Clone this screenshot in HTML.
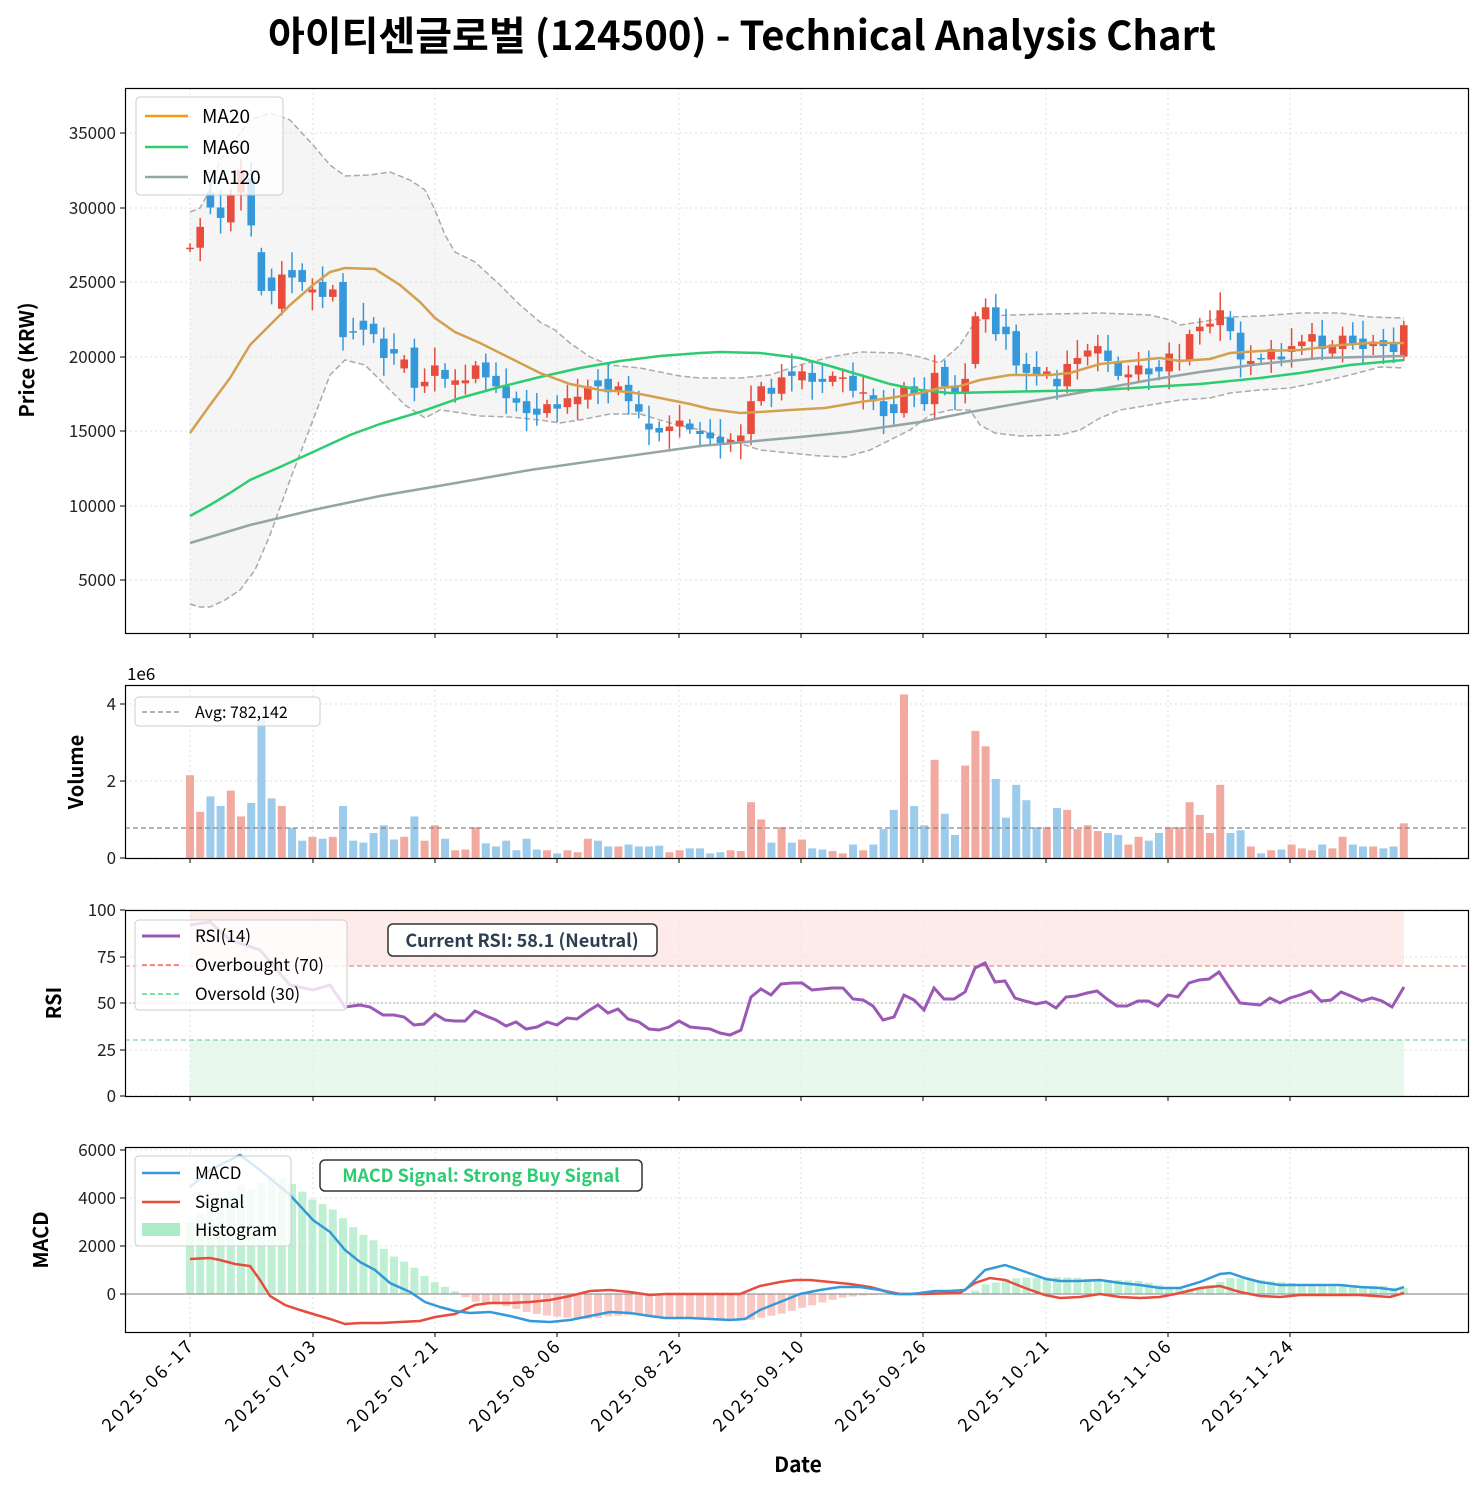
<!DOCTYPE html>
<html><head><meta charset="utf-8"><style>
body{margin:0;background:#fff;}
svg{display:block;font-family:"Noto Sans CJK KR","Liberation Sans",sans-serif;}
</style></head><body>
<svg id="s" width="1483" height="1491" xmlns="http://www.w3.org/2000/svg"></svg>
<script>
const S=document.getElementById('s');let h='';
const X=i=>190+10.2*i;
const py=p=>580-(p-5000)*0.0149;
const oc=[[27300,27300],[27300,28700],[31000,30000],[30000,29300],[29000,30800],[31000,32500],[32000,28800],[27000,24400],[25300,24400],[23200,25500],[25800,25300],[25800,25000],[24300,24500],[25000,24000],[24000,24500],[25000,21300],[21700,21600],[22400,21800],[22200,21500],[21200,19900],
[20500,20200],[19200,19800],[20600,17900],[18000,18300],[18700,19400],[19100,18500],[18100,18400],[18200,18400],[18500,19400],[19600,18600],
[18700,18000],[18000,17200],[17200,16900],[17000,16200],[16500,16100],[16200,16800],[16800,16500],[16600,17200],[16800,17300],[17100,18000],
[18400,18000],[18500,17600],[17700,18000],[18100,17000],[16800,16300],[15500,15100],[15200,14900],[15000,15300],[15300,15700],[15500,15100],
[15000,14800],[14900,14500],[14600,14200],[14200,14400],[14300,14700],[14800,17000],[17000,18000],[17900,17500],[17500,18600],[19000,18700],
[18400,19000],[18900,18300],[18500,18300],[18300,18700],[18500,18600],[18700,17700],[17500,17600],[17400,17000],[17000,16000],[16800,16200],
[16200,18000],[18000,17500],[17700,16800],[16800,18900],[19300,18000],[18000,17600],[17600,18500],[19500,22700],[22500,23300],[23300,21500],
[22000,21500],[21700,19400],[19500,18900],[19300,18800],[18800,19000],[18500,18000],[18000,19500],[19500,19900],[20000,20400],[20200,20700],
[20400,19700],[19700,18700],[18600,18800],[18800,19400],[19200,18800],[19300,19000],[19000,20200],[19800,19800],[19700,21500],[21700,22000],
[22000,22200],[22100,23100],[22600,21700],[21600,19800],[19500,19700],[19900,19800],[19800,20500],[20000,19800],[20300,20700],[20700,21000],
[21000,21500],[21400,20500],[20200,20800],[20500,21400],[21400,20900],[21200,20500],[20700,21000],[21100,20700],[20900,20300],[20000,22100]];
const vol=[2.15,1.2,1.6,1.35,1.75,1.08,1.43,3.6,1.55,1.35,.78,.45,.55,.5,.55,1.35,.45,.4,.65,.85,.48,.55,1.08,.45,.85,.5,.2,.22,.8,.38,.3,.45,.2,.5,.22,.2,.12,.2,.15,.5,.45,.3,.3,.35,.3,.3,.32,.15,.2,.25,.25,.12,.15,.2,.18,1.45,1.0,.4,.8,.4,.48,.25,.22,.18,.12,.35,.2,.35,.75,1.25,4.25,1.35,.85,2.55,1.15,.6,2.4,3.3,2.9,2.05,1.05,1.9,1.5,.8,.8,1.3,1.25,.75,.85,.7,.65,.6,.35,.55,.45,.65,.8,.8,1.45,1.12,.65,1.9,.65,.72,.3,.12,.2,.22,.35,.25,.2,.35,.25,.55,.35,.3,.3,.25,.3,.9];
const P=a=>a.map(p=>p.join(',')).join(' ');
function interp(pts,x){for(let k=0;k<pts.length-1;k++){if(x>=pts[k][0]&&x<=pts[k+1][0]){const t=(x-pts[k][0])/(pts[k+1][0]-pts[k][0]);return pts[k][1]+t*(pts[k+1][1]-pts[k][1]);}}return pts[pts.length-1][1];}
function frame(y0,y1){return `<rect x="125.5" y="${y0}.5" width="1343" height="${y1-y0}" fill="none" stroke="#000" stroke-width="1.2"/>`;}
const xt=[[190,'2025-06-17'],[313,'2025-07-03'],[435,'2025-07-21'],[557,'2025-08-06'],[679,'2025-08-25'],[801,'2025-09-10'],[923,'2025-09-26'],[1046,'2025-10-21'],[1168,'2025-11-06'],[1290,'2025-11-24']];
function grid(y0,y1,ys){let g='';xt.forEach(t=>{g+=`<line x1="${t[0]}" x2="${t[0]}" y1="${y0}" y2="${y1}" stroke="#ddd" stroke-dasharray="2,3"/><line x1="${t[0]}" x2="${t[0]}" y1="${y1}" y2="${y1+5}" stroke="#000"/>`;});
ys.forEach(v=>{g+=`<line x1="125" x2="1469" y1="${v[0]}" y2="${v[0]}" stroke="#ddd" stroke-dasharray="2,3"/><line x1="120" x2="125" y1="${v[0]}" y2="${v[0]}" stroke="#000"/><text x="116" y="${v[0]+6}" font-size="17" text-anchor="end" fill="#222">${v[1]}</text>`;});return g;}
h+=`<text x="742" y="50" font-size="40" font-weight="bold" text-anchor="middle">아이티센글로벌 (124500) - Technical Analysis Chart</text>`;
const BU=[[190,212],[200,208],[210,190],[220,160],[235,140],[250,120],[270,113],[290,120],[313,145],[330,165],[345,176],[370,175],[390,172],[410,180],[425,190],[435,210],[445,235],[455,252],[475,262],[500,285],[520,305],[540,322],[555,330],[570,343],[590,357],[610,365],[640,368],[660,372],[680,376],[700,378],[740,378],[770,375],[800,365],[830,357],[860,352],[900,353],[920,357],[940,363],[960,345],[975,322],[990,316],[1010,315],[1050,314],[1100,313],[1150,315],[1170,320],[1180,325],[1200,322],[1230,317],[1260,316],[1300,313],[1340,313],[1370,317],[1404,318]];
const BL=[[190,604],[200,607],[210,607],[225,600],[240,590],[255,570],[270,535],[290,480],[313,420],[330,375],[345,360],[365,365],[385,385],[405,405],[425,418],[440,410],[455,412],[480,416],[510,417],[540,420],[560,423],[580,420],[610,414],[640,414],[670,423],[700,430],[730,440],[760,450],[790,453],[820,456],[845,457],[870,450],[890,440],[910,430],[930,415],[950,410],[970,410],[980,425],[995,433],[1020,436],[1060,435],[1080,430],[1100,418],[1120,410],[1150,405],[1180,400],[1210,398],[1230,393],[1260,390],[1290,388],[1320,382],[1350,375],[1380,367],[1404,368]];
h+=grid(88,633,[[580,'5000'],[506,'10000'],[431,'15000'],[357,'20000'],[282,'25000'],[208,'30000'],[133,'35000']]);
h+=`<polygon points="${P(BU)} ${P(BL.slice().reverse())}" fill="#e6e8e6" fill-opacity="0.45"/>`;
h+=`<polyline points="${P(BU)}" fill="none" stroke="#aaa" stroke-width="1.5" stroke-dasharray="6,3"/><polyline points="${P(BL)}" fill="none" stroke="#aaa" stroke-width="1.5" stroke-dasharray="6,3"/>`;
oc.forEach((c,i)=>{const x=X(i),up=c[1]>=c[0],col=up?'#e74c3c':'#3498db';const hi=Math.max(...c)+300+((i*37)%7)*150,lo=Math.min(...c)-300-((i*53)%7)*150;
const y1=py(Math.max(...c)),y2=py(Math.min(...c));
h+=`<line x1="${x}" x2="${x}" y1="${py(hi)}" y2="${py(lo)}" stroke="${col}" stroke-width="1.5"/><rect x="${x-3.8}" y="${y1}" width="7.6" height="${Math.max(y2-y1,1.5)}" fill="${col}"/>`;});
const MA20=[[190,433],[210,405],[230,378],[250,345],[270,325],[290,305],[313,285],[330,272],[345,268],[375,269],[400,285],[420,302],[435,318],[455,332],[480,343],[510,358],[540,373],[570,384],[600,390],[630,392],[660,398],[690,404],[710,409],[740,413],[760,412],[790,410],[825,408],[860,402],[890,398],[920,393],[940,388],[960,386],[980,380],[1010,375],[1050,375],[1070,373],[1100,364],[1130,361],[1160,358],[1180,361],[1210,359],[1230,353],[1260,351],[1300,350],[1340,345],[1370,343],[1404,343]];
const MA60=[[190,516],[210,505],[230,493],[250,480],[280,467],[313,452],[350,435],[380,424],[420,412],[460,398],[500,387],[540,377],[580,368],[620,361],[660,356],[700,353],[720,352],[760,353],[800,358],[830,366],[860,375],[890,384],[920,390],[950,393],[1000,392],[1100,390],[1150,387],[1200,384],[1260,378],[1300,373],[1350,365],[1404,360]];
const MA120=[[190,543],[250,525],[313,510],[380,496],[450,484],[530,470],[600,460],[700,446],[800,437],[850,432],[920,422],[970,412],[1050,398],[1100,389],[1150,380],[1200,372],[1260,364],[1320,358],[1404,356]];
h+=`<polyline points="${P(MA120)}" fill="none" stroke="#95a5a6" stroke-width="2.5"/><polyline points="${P(MA60)}" fill="none" stroke="#2ecc71" stroke-width="2.5"/><polyline points="${P(MA20)}" fill="none" stroke="#d4a050" stroke-width="2.5"/>`;
h+=frame(88,633);
h+=`<rect x="136" y="97" width="147" height="98" rx="4" fill="#fff" fill-opacity="0.8" stroke="#ccc"/>`;
[['MA20','#f39c12',116],['MA60','#2ecc71',147],['MA120','#95a5a6',177]].forEach(l=>{h+=`<line x1="145" x2="188" y1="${l[2]}" y2="${l[2]}" stroke="${l[1]}" stroke-width="2.5"/><text x="202" y="${l[2]+7}" font-size="19">${l[0]}</text>`;});
h+=`<text transform="translate(34,360) rotate(-90)" font-size="20" font-weight="bold" text-anchor="middle">Price (KRW)</text>`;
const vy=v=>858-v*38.5;
h+=grid(685,858,[[858,'0'],[781,'2'],[704,'4']]);
vol.forEach((v,i)=>{const up=oc[i][1]>=oc[i][0];h+=`<rect x="${X(i)-4}" y="${vy(v)}" width="8" height="${v*38.5}" fill="${up?'#f1a9a0':'#9ccbeb'}"/>`;});
h+=`<line x1="125" x2="1469" y1="828" y2="828" stroke="#888" stroke-dasharray="5,3" stroke-width="1.3"/>`;
h+=frame(685,858);
h+=`<text x="127" y="680" font-size="17">1e6</text>`;
h+=`<rect x="135" y="697" width="185" height="29" rx="4" fill="#fff" fill-opacity="0.8" stroke="#ccc"/><line x1="142" x2="180" y1="712" y2="712" stroke="#888" stroke-dasharray="5,3" stroke-width="1.3"/><text x="195" y="718" font-size="16">Avg: 782,142</text>`;
h+=`<text transform="translate(83,772) rotate(-90)" font-size="20" font-weight="bold" text-anchor="middle">Volume</text>`;
h+=grid(910,1096,[[1096,'0'],[1050,'25'],[1003,'50'],[957,'75'],[910,'100']]);
h+=`<rect x="190" y="910" width="1214" height="56" fill="#fbe3e0" fill-opacity="0.7"/><rect x="190" y="1040" width="1214" height="56" fill="#def5e6" fill-opacity="0.7"/>`;
h+=`<line x1="125" x2="1469" y1="966" y2="966" stroke="#e74c3c" stroke-dasharray="5,3" stroke-opacity="0.8"/><line x1="125" x2="1469" y1="1040" y2="1040" stroke="#2ecc71" stroke-dasharray="5,3" stroke-opacity="0.8"/><line x1="125" x2="1469" y1="1003" y2="1003" stroke="#aaa" stroke-dasharray="2,2"/>`;
const RSI=[[190,925],[210,922],[230,940],[260,950],[290,985],[313,990],[330,985],[345,1007],[360,1005],[370,1007],[383,1015],[394,1015],[404,1017],[414,1025],[424,1024],[435,1014],[445,1020],[455,1021],[465,1021],[475,1011],[486,1016],[496,1020],[506,1026],[516,1022],[526,1029],[537,1027],[547,1022],[557,1025],[567,1018],[577,1019],[588,1011],[598,1005],[608,1013],[618,1009],[628,1019],[639,1022],[649,1029],[659,1030],[669,1027],[679,1021],[690,1027],[700,1028],[710,1029],[720,1033],[730,1035],[741,1030],[751,997],[761,989],[771,995],[781,984],[792,983],[802,983],[812,990],[822,989],[832,988],[843,988],[853,999],[863,1000],[873,1006],[883,1020],[894,1017],[904,995],[914,1000],[924,1010],[934,988],[944,999],[954,999],[965,992],[975,968],[985,963],[995,982],[1005,981],[1015,998],[1025,1001],[1036,1004],[1046,1002],[1056,1008],[1066,997],[1076,996],[1087,993],[1097,991],[1107,999],[1117,1006],[1127,1006],[1138,1001],[1148,1001],[1158,1006],[1168,995],[1178,997],[1189,983],[1199,980],[1209,979],[1219,972],[1229,987],[1240,1003],[1250,1004],[1260,1005],[1270,998],[1280,1003],[1290,998],[1300,995],[1311,991],[1321,1001],[1331,1000],[1341,992],[1351,996],[1362,1001],[1372,998],[1382,1001],[1392,1007],[1404,987]];
h+=`<polyline points="${P(RSI)}" fill="none" stroke="#9b59b6" stroke-width="3"/>`;
h+=frame(910,1096);
h+=`<rect x="135" y="920" width="212" height="90" rx="4" fill="#fff" fill-opacity="0.8" stroke="#ccc"/>`;
[['RSI(14)','#9b59b6',936,'',3],['Overbought (70)','#e74c3c',965,'5,3',1.3],['Oversold (30)','#2ecc71',994,'5,3',1.3]].forEach(l=>{h+=`<line x1="142" x2="180" y1="${l[2]}" y2="${l[2]}" stroke="${l[1]}" stroke-width="${l[4]}" stroke-dasharray="${l[3]}"/><text x="195" y="${l[2]+6}" font-size="17">${l[0]}</text>`;});
h+=`<rect x="388" y="924" width="269" height="32" rx="5" fill="#fff" stroke="#333" stroke-width="1.5"/><text x="522" y="947" font-size="18" font-weight="bold" text-anchor="middle" fill="#2c3e50">Current RSI: 58.1 (Neutral)</text>`;
h+=`<text transform="translate(61,1003) rotate(-90)" font-size="20" font-weight="bold" text-anchor="middle">RSI</text>`;
h+=grid(1147,1332,[[1294,'0'],[1246,'2000'],[1198,'4000'],[1150,'6000']]);
const MC=[[190,1187],[210,1170],[240,1155],[260,1170],[290,1195],[313,1220],[330,1232],[345,1250],[360,1262],[375,1270],[390,1283],[410,1292],[425,1302],[440,1307],[455,1311],[470,1313],[490,1312],[510,1316],[530,1321],[550,1322],[570,1320],[590,1316],[610,1312],[630,1313],[650,1316],[665,1318],[690,1318],[710,1319],[730,1320],[745,1319],[760,1310],[780,1302],[800,1294],[820,1290],[840,1287],[860,1287],[880,1290],[895,1294],[910,1294],[920,1293],[935,1291],[950,1291],[965,1290],[975,1280],[985,1270],[1005,1265],[1020,1270],[1046,1279],[1060,1281],[1080,1281],[1100,1280],[1120,1283],[1140,1285],[1160,1288],[1180,1288],[1200,1282],[1220,1274],[1230,1273],[1245,1278],[1260,1282],[1280,1285],[1300,1285],[1320,1285],[1340,1285],[1360,1287],[1380,1288],[1395,1290],[1404,1287]];
const SG=[[190,1259],[210,1258],[220,1260],[235,1264],[250,1266],[260,1280],[270,1296],[285,1305],[300,1310],[313,1314],[330,1319],[345,1324],[360,1323],[380,1323],[400,1322],[420,1321],[435,1317],[455,1314],[475,1305],[490,1303],[510,1303],[530,1302],[550,1300],[570,1296],[590,1291],[610,1290],[630,1292],[650,1295],[665,1294],[700,1294],[740,1294],[760,1286],[780,1282],[795,1280],[810,1280],[830,1282],[850,1284],[870,1287],[885,1291],[900,1294],[920,1294],[960,1293],[975,1283],[990,1278],[1005,1280],[1025,1288],[1045,1295],[1060,1298],[1080,1297],[1100,1294],[1120,1297],[1140,1298],[1160,1297],[1180,1293],[1200,1288],[1220,1286],[1240,1292],[1260,1296],[1280,1297],[1300,1295],[1330,1295],[1360,1295],[1390,1297],[1404,1293]];
for(let i=0;i<120;i++){const x=X(i);const d=interp(MC,x)-interp(SG,x);const y=1294+d;h+=`<rect x="${x-4}" y="${Math.min(y,1294)}" width="8" height="${Math.abs(d)}" fill="${d<0?'#abebc6':'#f5b7b1'}" fill-opacity="0.75"/>`;}
h+=`<line x1="125" x2="1469" y1="1294" y2="1294" stroke="#999" stroke-width="1.3"/>`;
h+=`<polyline points="${P(SG)}" fill="none" stroke="#e74c3c" stroke-width="2.5"/><polyline points="${P(MC)}" fill="none" stroke="#3498db" stroke-width="2.5"/>`;
h+=frame(1147,1332);
h+=`<rect x="135" y="1156" width="156" height="90" rx="4" fill="#fff" fill-opacity="0.8" stroke="#ccc"/>`;
h+=`<line x1="142" x2="180" y1="1173" y2="1173" stroke="#3498db" stroke-width="2.5"/><text x="195" y="1179" font-size="17">MACD</text><line x1="142" x2="180" y1="1202" y2="1202" stroke="#e74c3c" stroke-width="2.5"/><text x="195" y="1208" font-size="17">Signal</text><rect x="142" y="1223" width="38" height="13" fill="#abebc6"/><text x="195" y="1236" font-size="17">Histogram</text>`;
h+=`<rect x="320" y="1160" width="322" height="31" rx="5" fill="#fff" stroke="#333" stroke-width="1.5"/><text x="481" y="1182" font-size="18" font-weight="bold" text-anchor="middle" fill="#2ecc71">MACD Signal: Strong Buy Signal</text>`;
h+=`<text transform="translate(48,1240) rotate(-90)" font-size="20" font-weight="bold" text-anchor="middle">MACD</text>`;
xt.forEach(t=>{h+=`<text transform="translate(${t[0]+6},1346) rotate(-45)" font-size="18" letter-spacing="3" text-anchor="end">${t[1]}</text>`;});
h+=`<text x="798" y="1472" font-size="21" font-weight="bold" text-anchor="middle">Date</text>`;
S.innerHTML=h;
</script>
</body></html>
